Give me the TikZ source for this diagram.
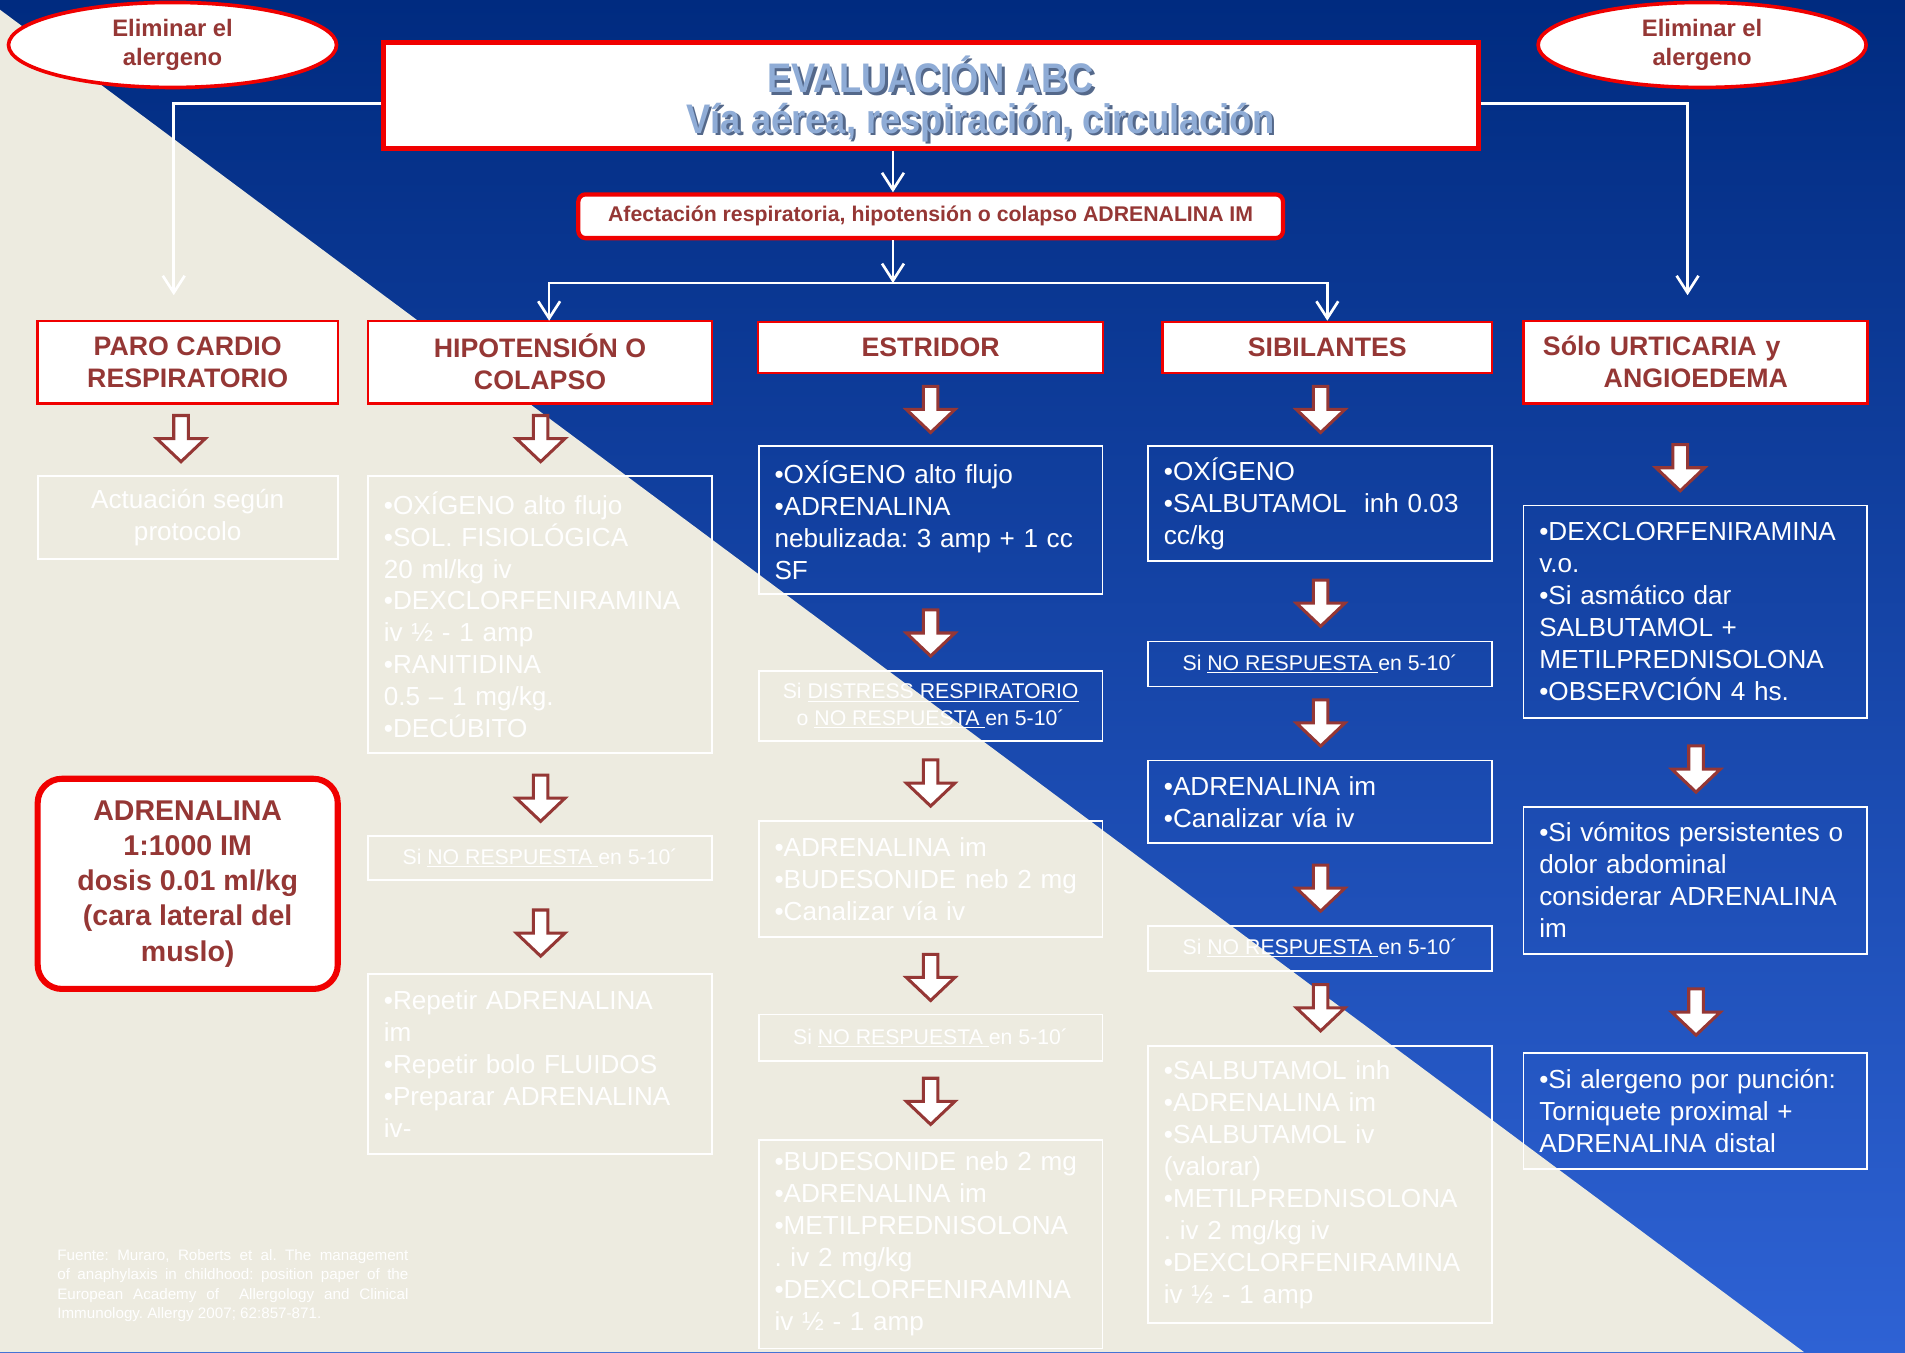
\documentclass[tikz,border=0pt]{standalone}
\usepackage{fontspec}
\setmainfont{Liberation Sans}
\newfontfamily\titlefont[FakeStretch=0.88]{Liberation Sans}
\usetikzlibrary{shapes.geometric,arrows.meta}
\frenchspacing

\definecolor{navytop}{RGB}{0,43,128}
\definecolor{bluemid}{RGB}{0,58,166}
\definecolor{bluebot}{RGB}{46,98,212}
\definecolor{sand}{RGB}{237,235,224}
\definecolor{brick}{RGB}{149,55,53}
\definecolor{alarm}{RGB}{240,0,0}
\definecolor{steel}{RGB}{143,172,214}
\definecolor{steeldark}{RGB}{84,104,138}

\newcommand{\norespuesta}{Si \underline{NO RESPUESTA }en 5-10´}

\tikzset{
  allergen/.style={ellipse, draw=alarm, line width=3pt, fill=white,
    minimum width=270pt, minimum height=70pt, inner sep=0pt, align=center,
    text=brick, font=\bfseries\fontsize{19.6}{24}\selectfont},
  titlebox/.style={draw=alarm, line width=4pt, fill=white,
    minimum width=901pt, minimum height=87pt},
  titletext/.style={anchor=base, inner sep=0pt, text=steel,
    font=\titlefont\bfseries\fontsize{34}{40}\selectfont},
  titleshade/.style={titletext, text=steeldark},
  alertbox/.style={draw=alarm, line width=3.5pt, fill=white, rounded corners=6pt,
    minimum width=580pt, minimum height=36pt, inner sep=0pt,
    text=brick, font=\bfseries\fontsize{17.5}{20}\selectfont},
  headbox/.style={draw=alarm, line width=2pt, fill=white, inner sep=0pt,
    align=center, text=brick, font=\bfseries\fontsize{22}{26}\selectfont},
  listbox/.style={draw=white, line width=1.5pt, text=white, align=left,
    text width=257pt, inner xsep=13pt, inner ysep=0pt,
    font=\fontsize{21.5}{26.3}\selectfont},
  notebox/.style={draw=white, line width=1.5pt, text=white, align=center,
    minimum width=283pt, inner sep=0pt, font=\fontsize{17.5}{22}\selectfont},
  dosebox/.style={draw=alarm, line width=5pt, fill=white, rounded corners=20pt,
    minimum width=247pt, minimum height=173pt, inner sep=0pt, align=center,
    text=brick, font=\bfseries\fontsize{23.5}{29}\selectfont},
  sourcenote/.style={anchor=north west, inner sep=0pt, text width=289pt,
    align=justify, text=white, font=\fontsize{12.5}{16}\selectfont},
  flow/.style={draw=white, line width=2.2pt,
    -{Straight Barb[length=14pt,width=18pt]}},
  blockarrow/.pic={\draw[brick, fill=white, line width=2.5pt]
    (-6,-19) -- (6,-19) -- (6,0) -- (20,0) -- (0,19) -- (-20,0) -- (-6,0) -- cycle;}
}

\begin{document}
\begin{tikzpicture}[x=1pt, y=-1pt]
  \useasboundingbox (0,0) rectangle (1568,1113);
  \shade[top color=navytop, middle color=bluemid, bottom color=bluebot]
    (0,0) rectangle (1568,1113);
  \fill[sand] (0,8) -- (1485,1113) -- (0,1113) -- cycle;

  \node[allergen] (elim_l) at (142,37) {Eliminar el\\alergeno};
  \node[allergen] (elim_r) at (1401,37) {Eliminar el\\alergeno};

  \node[titlebox] (eval) at (766.5,78.5) {};
  \node[titleshade] (eval_s1) at (768,78.5) {EVALUACIÓN ABC};
  \node[titletext] (eval_t1) at (766,76.5) {EVALUACIÓN ABC};
  \node[titleshade] (eval_s2) at (809,111.5) {Vía aérea, respiración, circulación};
  \node[titletext] (eval_t2) at (807,109.5) {Vía aérea, respiración, circulación};

  \node[alertbox] (afect) at (766,178) {Afectación respiratoria, hipotensión o colapso ADRENALINA IM};

  \node[headbox, minimum width=247pt, minimum height=68pt] (paro) at (154.5,298) {PARO CARDIO\\RESPIRATORIO};
  \node[headbox, minimum width=283pt, minimum height=68pt] (hipo) at (444.5,298) {HIPOTENSIÓN O\\COLAPSO};
  \node[headbox, minimum width=284pt, minimum height=42pt] (estr) at (766,286) {ESTRIDOR};
  \node[headbox, minimum width=271pt, minimum height=42pt] (sib) at (1092.5,286) {SIBILANTES};
  \node[headbox, minimum width=283pt, minimum height=68pt, text width=251pt, align=left] (urt) at (1395.5,298) {Sólo URTICARIA y\\\hspace*{50pt}ANGIOEDEMA};

  \node[notebox, minimum width=247pt, minimum height=68pt, font=\fontsize{21.5}{26}\selectfont] (paro_1) at (154.5,426) {Actuación según\\protocolo};
  \node[dosebox] (adr) at (154.5,727.5) {ADRENALINA\\1:1000 IM\\dosis 0.01 ml/kg\\(cara lateral del\\muslo)};

  \node[listbox, minimum height=228pt] (hipo_1) at (444.5,506) {•OXÍGENO alto flujo\\•SOL. FISIOLÓGICA\\20 ml/kg iv\\•DEXCLORFENIRAMINA\\iv ½ - 1 amp\\•RANITIDINA\\0.5 – 1 mg/kg.\\•DECÚBITO};
  \node[notebox, minimum height=36pt] (hipo_2) at (444.5,706) {\norespuesta};
  \node[listbox, minimum height=148pt] (hipo_3) at (444.5,876) {•Repetir ADRENALINA\\im\\•Repetir bolo FLUIDOS\\•Preparar ADRENALINA\\iv-};

  \node[listbox, minimum height=122pt] (estr_1) at (766,428) {•OXÍGENO alto flujo\\•ADRENALINA\\nebulizada: 3 amp + 1 cc\\SF};
  \node[notebox, minimum height=58pt] (estr_2) at (766,581) {Si \underline{DISTRESS RESPIRATORIO}\\o \underline{NO RESPUESTA }en 5-10´};
  \node[listbox, minimum height=95pt] (estr_3) at (766,723.5) {•ADRENALINA im\\•BUDESONIDE neb 2 mg\\•Canalizar vía iv};
  \node[notebox, minimum height=38pt] (estr_4) at (766,854) {\norespuesta};
  \node[listbox, minimum height=172pt] (estr_5) at (766,1024) {•BUDESONIDE neb 2 mg\\•ADRENALINA im\\•METILPREDNISOLONA\\. iv 2 mg/kg\\•DEXCLORFENIRAMINA\\iv ½ - 1 amp};

  \node[listbox, minimum height=95pt] (sib_1) at (1086.5,414.5) {•OXÍGENO\\•SALBUTAMOL\ \ inh 0.03\\cc/kg};
  \node[notebox, minimum height=37pt] (sib_2) at (1086.5,546.5) {\norespuesta};
  \node[listbox, minimum height=68pt] (sib_3) at (1086.5,660) {•ADRENALINA im\\•Canalizar vía iv};
  \node[notebox, minimum height=37pt] (sib_4) at (1086.5,780.5) {\norespuesta};
  \node[listbox, minimum height=228pt] (sib_5) at (1086.5,975) {•SALBUTAMOL inh\\•ADRENALINA im\\•SALBUTAMOL iv\\(valorar)\\•METILPREDNISOLONA\\. iv 2 mg/kg iv\\•DEXCLORFENIRAMINA\\iv ½ - 1 amp};

  \node[listbox, minimum height=175pt] (urt_1) at (1395.5,503.5) {•DEXCLORFENIRAMINA\\v.o.\\•Si asmático dar\\SALBUTAMOL +\\METILPREDNISOLONA\\•OBSERVCIÓN 4 hs.};
  \node[listbox, minimum height=121pt] (urt_2) at (1395.5,724.5) {•Si vómitos persistentes~o\\dolor abdominal\\considerar ADRENALINA\\im};
  \node[listbox, minimum height=95pt] (urt_3) at (1395.5,914.5) {•Si alergeno por punción:\\Torniquete proximal +\\ADRENALINA distal};

  \node[sourcenote] (fuente) at (47,1028) {Fuente: Muraro, Roberts et al. The management\linebreak of anaphylaxis in childhood: position paper of the\linebreak European Academy of \ Allergology and Clinical\linebreak Immunology. Allergy 2007; 62:857-871.};

  \coordinate (fork) at (735,233);
  \coordinate (paro_in) at (143,243);
  \coordinate (urt_in) at (1389,243);
  \coordinate (hipo_in) at (452,264);
  \draw[flow] ([yshift=-6.5pt]eval.west) -| (paro_in);
  \draw[flow] ([yshift=-6.5pt]eval.east) -| (urt_in);
  \draw[flow] (fork |- eval.south) -- (fork |- afect.north);
  \draw[flow] (fork |- afect.south) -- (fork);
  \draw[flow] (fork) -| (hipo_in);
  \draw[flow] (fork) -| (sib.north);

  \pic (a_paro) at (149,361) {blockarrow};
  \pic (a_hipo1) at (445,361) {blockarrow};
  \pic (a_hipo2) at (445,657) {blockarrow};
  \pic (a_hipo3) at (445,768) {blockarrow};
  \pic (a_estr1) at (766,337) {blockarrow};
  \pic (a_estr2) at (766,521) {blockarrow};
  \pic (a_estr3) at (766,644.5) {blockarrow};
  \pic (a_estr4) at (766,804.5) {blockarrow};
  \pic (a_estr5) at (766,906.5) {blockarrow};
  \pic (a_sib1) at (1087,337) {blockarrow};
  \pic (a_sib2) at (1087,496.5) {blockarrow};
  \pic (a_sib3) at (1087,595) {blockarrow};
  \pic (a_sib4) at (1087,731) {blockarrow};
  \pic (a_sib5) at (1087,829.5) {blockarrow};
  \pic (a_urt1) at (1383,385) {blockarrow};
  \pic (a_urt2) at (1396,633) {blockarrow};
  \pic (a_urt3) at (1396,833) {blockarrow};
\end{tikzpicture}
\end{document}
